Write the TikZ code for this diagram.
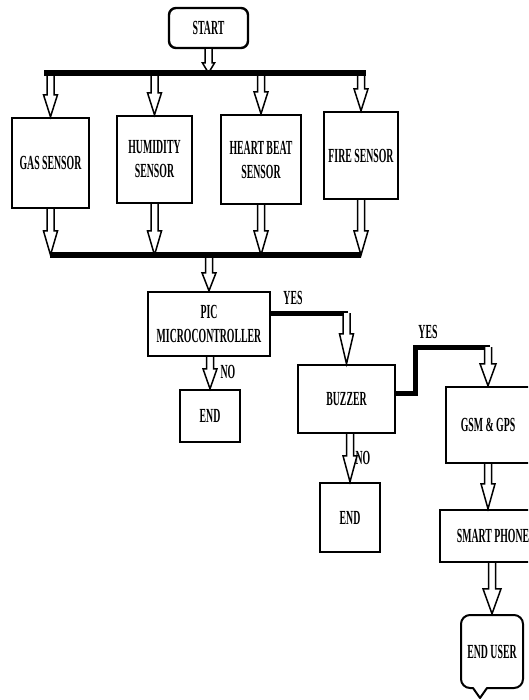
\documentclass[tikz,border=0pt]{standalone}
\usepackage{fontspec}
\newfontfamily\dfont{Liberation Serif Bold}[FakeStretch=0.49]
\usetikzlibrary{calc}
\tikzset{
  lbl/.style={font=\dfont\fontsize{20}{24}\selectfont},
  box/.style={draw, line width=2.4pt, inner sep=0pt, align=center,
    font=\dfont\fontsize{20}{24}\selectfont},
  bus/.style={line width=6pt},
  yesline/.style={line width=5pt},
  harrowstyle/.style={line width=1.5pt, line join=miter, fill=white}
}
% hollow vertical block arrow: source, target, head length, head half width
\newcommand\harrow[4]{%
  \draw[harrowstyle] let \p1=#1, \p2=#2 in
    (\x1-3.5pt,\y1) -- (\x1-3.5pt,\y2+#3pt) -- (\x1-#4pt,\y2+#3pt) --
    (\x1,\y2) -- (\x1+#4pt,\y2+#3pt) -- (\x1+3.5pt,\y2+#3pt) -- (\x1+3.5pt,\y1);}
\begin{document}
\begin{tikzpicture}[x=1pt,y=-1pt]
\useasboundingbox (0,0) rectangle (528,700);
\clip (0,0) rectangle (528,700);
\fill[white] (0,0) rectangle (528,700);

% nodes
\node[box, rounded corners=7pt, minimum width=79pt, minimum height=40pt] (start) at (208.5,28) {START};
\node[box, minimum width=77pt, minimum height=90pt] (gas) at (50.5,163) {GAS SENSOR};
\node[box, minimum width=75pt, minimum height=87pt] (hum) at (154.5,159.5) {HUMIDITY\\SENSOR};
\node[box, minimum width=80pt, minimum height=89pt] (heart) at (261,159.5) {HEART BEAT\\SENSOR};
\node[box, minimum width=74pt, minimum height=87pt] (fire) at (361,155.5) {FIRE SENSOR};
\node[box, minimum width=122pt, minimum height=64pt] (pic) at (209,324) {PIC\\MICROCONTROLLER};
\node[box, minimum width=60pt, minimum height=52pt] (end1) at (210,416) {END};
\node[box, minimum width=97pt, minimum height=68pt] (buzzer) at (346.5,399) {BUZZER};
\node[box, minimum width=60pt, minimum height=69pt] (end2) at (350,517.5) {END};
\node[box, minimum width=84pt, minimum height=76pt] (gsm) at (488,425) {GSM \& GPS};
\node[box, minimum width=106pt, minimum height=52pt] (smart) at (493,536) {SMART PHONE};
\node[box, draw=none, minimum width=62pt, minimum height=73pt] (enduser) at (492,651.5) {END USER};
\draw[line width=2pt, line join=round]
  (480,698) -- (473,688)
  [rounded corners=9pt] -- (461,688) -- (461,615) -- (523,615) -- (523,688)
  [sharp corners] -- (487,688) -- cycle;

% bus coordinates
\coordinate (tbL) at (44,73);
\coordinate (tbR) at (366,73);
\coordinate (bbL) at (50,255);
\coordinate (bbR) at (361,255);

% arrows
\harrow{(start.south)}{(start.south |- tbL)}{10}{6}
\harrow{(gas.north |- tbL)}{(gas.north)}{22}{7}
\harrow{(hum.north |- tbL)}{(hum.north)}{22}{7}
\harrow{(heart.north |- tbL)}{(heart.north)}{22}{7}
\harrow{(fire.north |- tbL)}{(fire.north)}{22}{7}
\harrow{(gas.south)}{(gas.south |- bbL)}{24}{7}
\harrow{(hum.south)}{(hum.south |- bbL)}{24}{7}
\harrow{(heart.south)}{(heart.south |- bbL)}{24}{7}
\harrow{(fire.south)}{(fire.south |- bbL)}{24}{7}
\harrow{(pic.north |- bbL)}{(pic.north)}{18}{7}
\harrow{(end1.north |- pic.south)}{(end1.north)}{20}{7}

% buses
\draw[bus] (tbL) -- (tbR);
\draw[bus] (bbL) -- (bbR);

% YES path 1: PIC -> BUZZER
\coordinate (y1a) at ($(pic.east)+(0,-11)$);
\coordinate (y1b) at (buzzer.north |- y1a);
\draw[yesline] (y1a) -- ([xshift=1.8pt]y1b);
\harrow{(y1b)}{(buzzer.north)}{30}{7}
\node[lbl] (yes1) at (293,298) {YES};

% NO from PIC
\node[lbl] (no1) at (228,372) {NO};

% buzzer -> end2
\harrow{(end2.north |- buzzer.south)}{(end2.north)}{26}{7}
\node[lbl] (no2) at (363,458) {NO};

% YES path 2: BUZZER -> GSM
\coordinate (y2a) at ($(buzzer.east)+(0,-6)$);
\coordinate (y2b) at (415,393);
\coordinate (y2c) at (415,347);
\coordinate (y2d) at (gsm.north |- y2c);
\draw[yesline, line join=miter] (y2a) -- (y2b) -- (y2c) -- ([xshift=1.8pt]y2d);
\harrow{(y2d)}{(gsm.north)}{22}{8}
\node[lbl] (yes2) at (428,332) {YES};

% GSM -> smart phone -> end user
\harrow{(gsm.south)}{(gsm.south |- smart.north)}{25}{7}
\harrow{(smart.south -| enduser.north)}{(enduser.north)}{25}{9}
\end{tikzpicture}
\end{document}
